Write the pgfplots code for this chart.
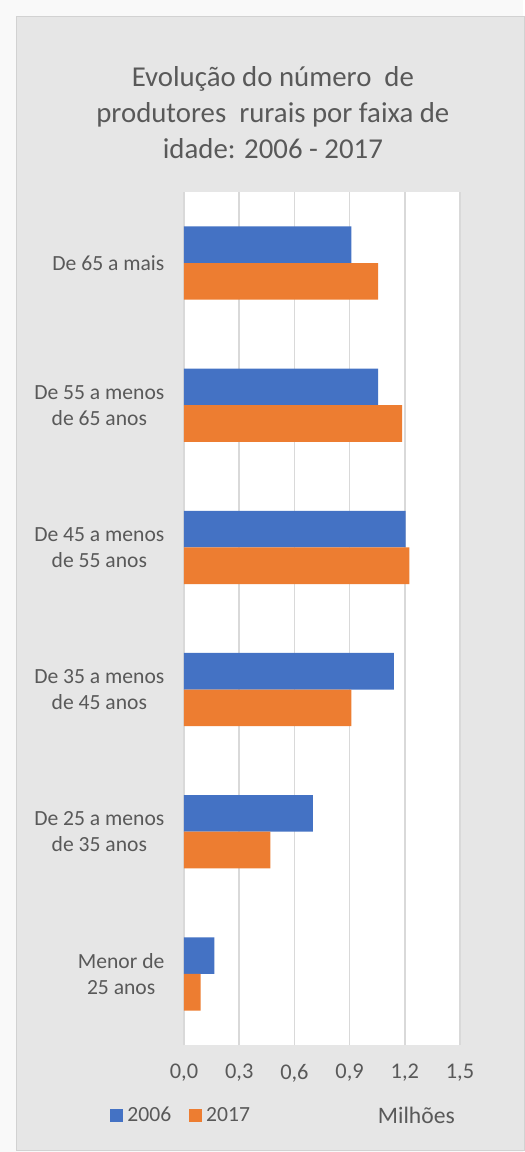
\documentclass[border=0pt]{standalone}
\usepackage{pgfplots}
\pgfplotsset{compat=1.18}
\usepackage{fontspec}
\setmainfont{Carlito}
\definecolor{bblue}{HTML}{4472C4}
\definecolor{borange}{HTML}{ED7D31}
\definecolor{txt}{HTML}{595959}
\definecolor{panel}{HTML}{E6E6E6}
\definecolor{outer}{HTML}{F9F9F9}
\definecolor{gridc}{HTML}{D9D9D9}
\begin{document}
\begin{tikzpicture}
% page and grey panel (1 px of the reference = 0.5pt, origin at the plot's lower left)
\fill[outer] (-92pt,-53.5pt) rectangle (169.5pt,522.5pt);
\filldraw[fill=panel, draw=gray!35, line width=0.5pt] (-83.5pt,-52.5pt) rectangle (170pt,514pt);
\begin{axis}[
  at={(0,0)}, anchor=south west,
  scale only axis,
  width=138pt, height=426.5pt,
  xbar,
  bar width=18.3pt,
  xmin=0, xmax=1.5,
  ymin=-0.5, ymax=5.5,
  xtick={0,0.3,0.6,0.9,1.2,1.5},
  ytick={0,1,2,3,4,5},
  yticklabels={{Menor de\\25 anos},{De 25 a menos\\de 35 anos},{De 35 a menos\\de 45 anos},{De 45 a menos\\de 55 anos},{De 55 a menos\\de 65 anos},{De 65 a mais}},
  xticklabel style={/pgf/number format/fixed, /pgf/number format/fixed zerofill, /pgf/number format/precision=1, /pgf/number format/use comma, /pgf/number format/assume math mode=true, font=\fontsize{11.2}{13}\selectfont, text=txt, yshift=-6pt},
  yticklabel style={align=center, font=\fontsize{10.8}{13}\selectfont, text=txt, xshift=-2pt},
  xmajorgrids=true,
  major grid style={draw=gridc, line width=0.75pt},
  axis line style={draw=none},
  tick style={draw=none},
  axis background/.style={fill=white},
  legend style={at={(-0.268,-0.083)}, anchor=west, draw=none, fill=none, inner sep=0pt,
    legend columns=2, font=\fontsize{10.8}{13}\selectfont, text=txt,
    /tikz/every even column/.append style={column sep=7pt}},
  legend image code/.code={\fill[#1] (0pt,-3.25pt) rectangle (6.5pt,3.25pt);},
  clip=false,
]
\addplot[fill=bblue, draw=none, bar shift=9.15pt] coordinates {
  (0.165,0) (0.70,1) (1.14,2) (1.205,3) (1.055,4) (0.91,5)
};
\addplot[fill=borange, draw=none, bar shift=-9.15pt] coordinates {
  (0.09,0) (0.47,1) (0.91,2) (1.225,3) (1.185,4) (1.055,5)
};
\legend{2006, 2017}
\node[text=txt, font=\fontsize{11.8}{13}\selectfont] at (axis description cs:0.842,-0.083) {Milhões};
\node[text=txt, align=center, font=\fontsize{14.4}{18}\selectfont] at (axis description cs:0.322,1.0926)
  {Evolução do número\ \ de\\produtores\ \ rurais por faixa de\\idade: 2006 - 2017};
\end{axis}
\end{tikzpicture}
\end{document}
